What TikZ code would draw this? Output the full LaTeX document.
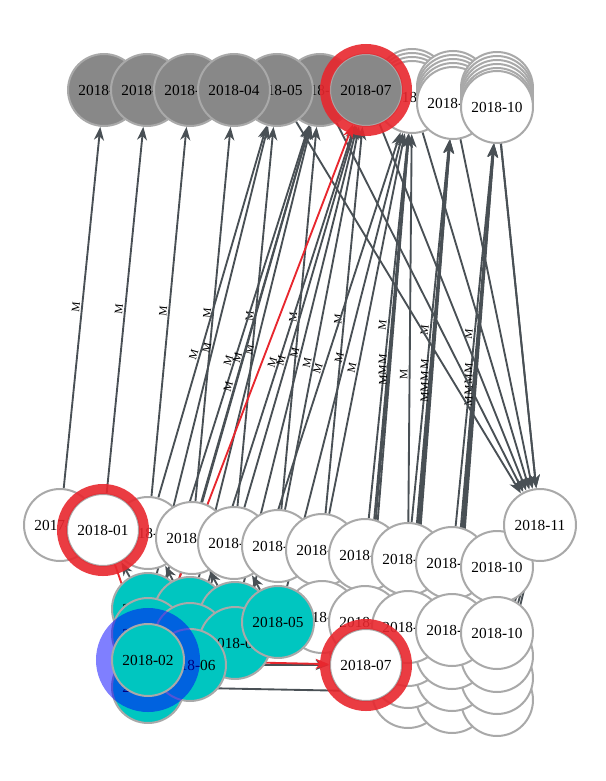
\documentclass[tikz,border=0pt]{standalone}
\usepackage{fontspec}
\setmainfont{Liberation Serif}
\usepackage{tikz}
\usetikzlibrary{arrows.meta,backgrounds}

\definecolor{pastfill}{HTML}{888888}
\definecolor{rim}{HTML}{A9A9A9}
\definecolor{linkcol}{HTML}{495055}
\definecolor{hitfill}{HTML}{00C6C0}
\definecolor{ringred}{HTML}{E8272E}

\tikzset{
  month/.style={circle, draw=rim, line width=1.5pt, fill=white, minimum size=54pt, inner sep=0pt,
    font=\fontsize{11.5}{12}\selectfont},
  past/.style={month, fill=pastfill},
  hit/.style={month, fill=hitfill},
  link/.style={draw=linkcol, line width=1.4pt, -{Stealth[length=10pt, width=7.5pt, inset=3pt]}},
  hot/.style={link, draw=ringred},
  mlab/.style={sloped, above, inner sep=1pt, font=\fontsize{8.5}{9}\selectfont},
  redring/.style={draw=ringred, opacity=.9, line width=7.5pt},
  bluering/.style={draw=blue, opacity=.5, line width=12pt}
}

\begin{document}
\begin{tikzpicture}[x=0.75pt, y=-0.75pt]
    \useasboundingbox (0,0) rectangle (606,781);

    % top row
    \node[past] (t1) at (104,90) {2018-01};
    \node[past] (t2) at (147,90) {2018-02};
    \node[past] (t3) at (190,90) {2018-03};
    \node[past] (t6) at (320,90) {2018-06};
    \node[past] (t5) at (277,90) {2018-05};
    \node[past] (t4) at (234,90) {2018-04};
    \foreach \y [count=\i] in {85,89,93} \node[month] (s8\i) at (412,\y) {};
    \node[month] (t8) at (412,97) {2018-08};
    \foreach \y [count=\i] in {87,91,95,99} \node[month] (s9\i) at (453,\y) {};
    \node[month] (t9) at (453,103) {2018-09};
    \foreach \y [count=\i] in {88,92,96,100,104} \node[month] (s10\i) at (497,\y) {};
    \node[month] (t10) at (497,107) {2018-10};
    \node[past] (t7) at (366,90) {2018-07};
    \draw[redring] (t7.center) circle[radius=41];

    % middle row
    \node[month] (m0) at (60,525) {2017-12};
    \node[month] (m2) at (148,533) {2018-02};
    \node[month] (m1) at (103,530) {2018-01};
    \draw[redring] (m1.center) circle[radius=41];
    \node[month] (m3) at (192,538) {2018-03};
    \node[month] (m4) at (234,543) {2018-04};
    \node[month] (m5) at (278,546) {2018-05};
    \node[month] (m6) at (322,550) {2018-06};
    \node[month] (m7) at (365,555) {2018-07};
    \node[month] (m8) at (408,559) {2018-08};
    \node[month] (m9) at (452,563) {2018-09};
    \node[month] (m10) at (497,567) {2018-10};
    \node[month] (m11) at (540,525) {2018-11};

    % lower rows
    \foreach \x/\y [count=\i] in {408/692,452/697,497/700,408/672,452/675,497/678,408/650,452/653,497/656,365/645}
      \node[month] (w\i) at (\x,\y) {};
    \node[month] (a6) at (322,617) {2018-06};
    \node[month] (a7) at (365,622) {2018-07};
    \node[month] (a8) at (408,627) {2018-08};
    \node[month] (a9) at (452,630) {2018-09};
    \node[month] (a10) at (497,633) {2018-10};

    \node[hit] (h1) at (148,609) {2018-01};
    \node[hit] (h2) at (190,613) {2018-03};
    \node[hit] (h3) at (235,618) {2018-04};
    \node[hit] (h4) at (148,634) {2018-01};
    \node[hit] (h5) at (190,639) {2018-03};
    \node[hit] (h6) at (235,643) {2018-06};
    \node[hit] (h7) at (278,622) {2018-05};
    \node[hit] (h9) at (148,687) {2018-02};
    \node[hit] (h8) at (190,665) {2018-06};
    \node[month] (r7) at (366,665) {2018-07};
    \draw[redring] (r7.center) circle[radius=41];
    \draw[bluering] (148,660) circle[radius=44];
    \node[hit] (d2) at (148,660) {2018-02};

    \begin{scope}[on background layer]
    \foreach \a/\b in {m0/t1, m1/t2, m2/t3, m3/t4, m4/t5, m5/t6, m6/t7, m7/t8, m8/t9, m9/t10,
                       h1/t5, h2/t6, h3/t7, h4/t6, h5/t7, h6/t8, h7/t8, h9/t6,
                       a7/t8, w10/t8, r7/t8, a8/t9, w7/t9, w4/t9, w1/t9, a9/t10, w8/t10, w5/t10, w2/t10}
      \draw[link] (\a) -- node[mlab] {M} (\b);
    \foreach \a/\b in {m3/t6, m4/t7, m2/t5, m5/t7, m6/t8, m8/t8}
      \draw[link] (\a) -- node[mlab, pos=.38] {M} (\b);
    \foreach \a/\b in {t5/m11, t6/m11, t7/m11, t8/m11, t9/m11, t10/m11, s105/m11,
                       a10/m11, w9/m11, w6/m11, w3/m11,
                       h1/m1, h2/m2, h3/m3, h7/m4, h8/r7, h9/w1}
      \draw[link] (\a) -- (\b);
    \draw[hot] (m1) -- (d2);
    \draw[hot] (d2) -- (t7);
    \draw[hot] (d2) -- (r7);
    \end{scope}
\end{tikzpicture}
\end{document}
